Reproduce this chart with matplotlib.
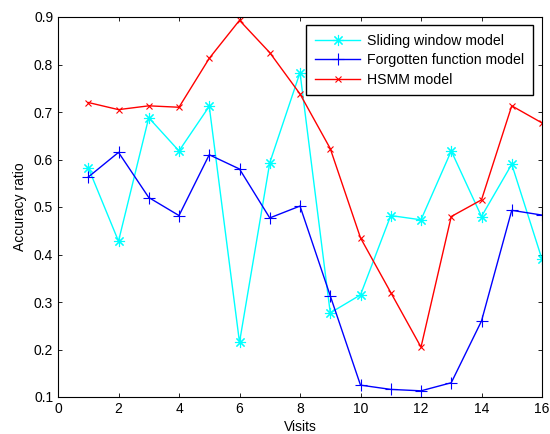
import matplotlib
matplotlib.use("Agg")
import matplotlib.pyplot as plt

visits = list(range(1, 17))
sliding = [0.583, 0.428, 0.688, 0.618, 0.712, 0.215, 0.593, 0.783, 0.277, 0.315, 0.482, 0.473, 0.618, 0.480, 0.590, 0.390]
forgotten = [0.563, 0.615, 0.520, 0.482, 0.610, 0.580, 0.477, 0.502, 0.313, 0.125, 0.116, 0.113, 0.130, 0.260, 0.493, 0.483]
hsmm = [0.720, 0.705, 0.713, 0.710, 0.813, 0.893, 0.825, 0.738, 0.623, 0.435, 0.320, 0.205, 0.480, 0.515, 0.713, 0.677]
xticks = [0, 2, 4, 6, 8, 10, 12, 14, 16]
yticks = [0.1, 0.2, 0.3, 0.4, 0.5, 0.6, 0.7, 0.8, 0.9]

plt.rcParams['font.family'] = ['Liberation Sans', 'DejaVu Sans']
fig = plt.figure(figsize=(5.5, 4.34), dpi=100)
L, R, T, B = 58, 542, 17, 397
ax = fig.add_axes([L/550, 1-B/434, (R-L)/550, (B-T)/434])

ax.plot(visits, sliding, color='cyan', marker=(8, 2, 0), ms=8, lw=1, mew=0.8, label='Sliding window model')
ax.plot(visits, forgotten, color='blue', marker='+', ms=9, lw=1, mew=0.8, label='Forgotten function model')
ax.plot(visits, hsmm, color='red', marker='x', ms=5, lw=1, mew=0.8, label='HSMM model')

ax.set_xlim(0, 16)
ax.set_ylim(0.1, 0.9)
ax.set_xticks(xticks)
ax.set_yticks(yticks)
ax.set_yticklabels([f"{v:g}" for v in yticks])
ax.tick_params(direction='in', top=True, right=True, labelsize=10, length=3, width=0.6)
for s in ax.spines.values():
    s.set_linewidth(0.8)
ax.set_xlabel('Visits', fontsize=10, labelpad=3)
ax.set_ylabel('Accuracy ratio', fontsize=10, labelpad=5)

leg = ax.legend(loc='upper right', bbox_to_anchor=((533-L)/(R-L), (B-25)/(B-T)), borderaxespad=0,
                fontsize=10.2, fancybox=False, framealpha=1, edgecolor='black', borderpad=0.6,
                handlelength=3.2, labelspacing=0.4, handletextpad=0.5)
leg.get_frame().set_linewidth(1.0)

fig.savefig('out.png', dpi=100)
